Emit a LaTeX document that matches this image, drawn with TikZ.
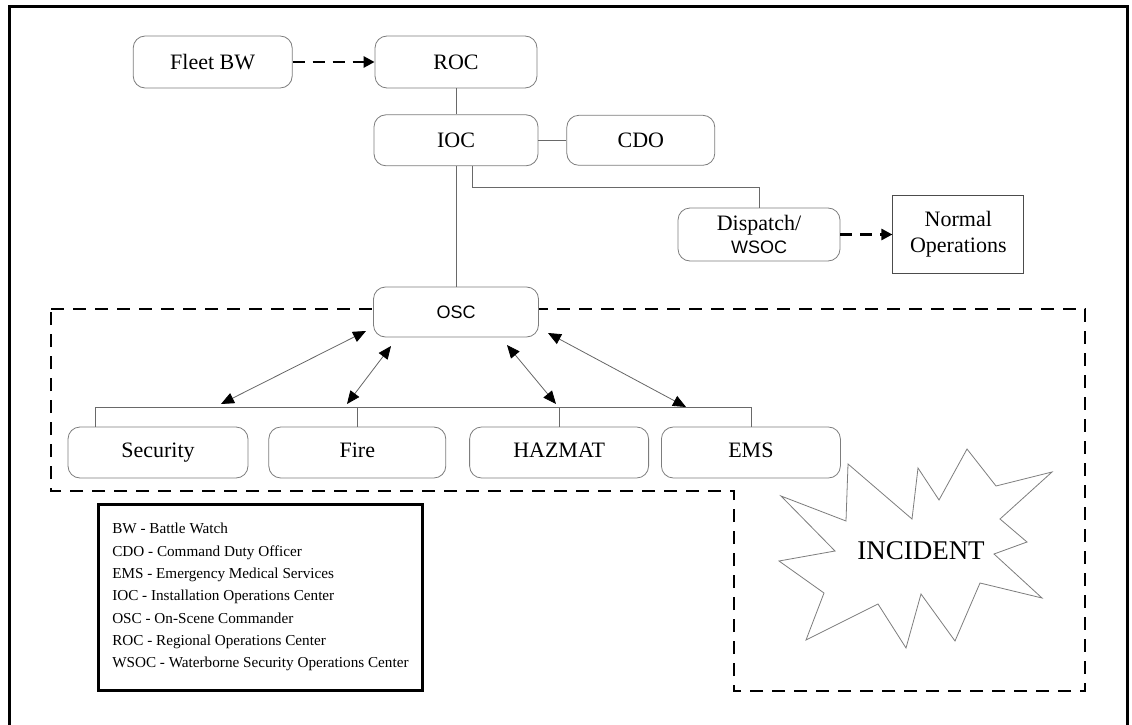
\documentclass[tikz,border=0pt]{standalone}
\usepackage{fontspec}
\setmainfont{Liberation Serif}
\setsansfont{Liberation Sans}
\usetikzlibrary{arrows.meta, positioning, calc, backgrounds}
\definecolor{boxline}{RGB}{125, 125, 125}
\definecolor{linkcolor}{RGB}{105, 105, 105}
\definecolor{framecolor}{RGB}{0, 0, 0}
\tikzset{
  unit/.style={rectangle, rounded corners=12pt, minimum width=162pt, minimum height=52pt, inner sep=0pt, align=center, fill=white, draw=boxline, line width=0.8pt, font=\fontsize{22}{26}\selectfont},
  teamunit/.style={unit, minimum width=179pt, minimum height=51pt, text height=15pt, text depth=5pt},
  sfunit/.style={unit, font=\sffamily\fontsize{18}{22}\selectfont},
  plainbox/.style={unit, rounded corners=0pt, draw=black!70},
  link/.style={draw=linkcolor, line width=0.8pt},
  duallink/.style={draw=black!60, line width=0.8pt, {Triangle[length=13pt,width=11pt,color=black]}-{Triangle[length=13pt,width=11pt,color=black]}},
  dasharr/.style={-{Triangle[length=11pt,width=11pt]}, line width=2.6pt, dash pattern=on 12pt off 8pt},
  zone/.style={line width=2.8pt, dash pattern=on 13pt off 9pt},
  legendbox/.style={rectangle, draw=framecolor, line width=2.5pt, fill=white, align=left, inner xsep=14pt, inner ysep=0pt, minimum width=320pt, minimum height=186pt, font=\fontsize{15.2}{22.3}\selectfont},
  burst/.style={draw=boxline, line width=0.8pt, fill=white}
}

\begin{document}
\begin{tikzpicture}[x=1pt, y=-1pt]

  \useasboundingbox (0,0) rectangle (1132,725);
  \draw[line width=3pt, color=framecolor] (9,725) -- (9,7) -- (1127,7) -- (1127,725);

  \node[unit] (roc) at (456,62) {ROC};
  \node[unit, minimum width=159pt, left=82pt of roc] (fleet) {Fleet BW};
  \node[unit, minimum width=164pt, minimum height=51pt, below=26pt of roc] (ioc) {IOC};
  \node[unit, minimum width=148pt, minimum height=50pt, right=28pt of ioc] (cdo) {CDO};

  \node[unit, minimum height=53pt] (dispatch) at (759,234.5) {Dispatch/\\[-3pt]{\sffamily\fontsize{18}{22}\selectfont WSOC}};
  \node[plainbox, minimum width=131pt, minimum height=78pt, right=52pt of dispatch] (normal) {Normal\\Operations};

  \node[sfunit, minimum width=165pt, minimum height=50pt] (osc) at (456,312) {OSC};

  \node[teamunit, minimum width=180pt] (sec) at (158,452.5) {Security};
  \node[teamunit, minimum width=177pt, right=20pt of sec] (fire) {Fire};
  \node[teamunit, right=23pt of fire] (haz) {HAZMAT};
  \node[teamunit, right=12pt of haz] (ems) {EMS};

  % chain of command
  \draw[link] (roc) -- (ioc);
  \draw[link] (ioc) -- (cdo);
  \draw[link] (ioc) -- (osc);
  \draw[link] ($(ioc.south)+(16,0)$) -- ++(0,21) -| (dispatch.north);
  \draw[dasharr] (fleet) -- (roc);
  \draw[dasharr] (dispatch) -- (normal);

  % responders
  \draw[link] ($(sec.north west)+(28,0)$) -- ++(0,-19) -| (ems.north);
  \draw[link] (fire.north) -- ++(0,-19);
  \draw[link] (haz.north) -- ++(0,-19);

  \coordinate (o1) at (366,331);
  \coordinate (o2) at (391,346);
  \coordinate (o3) at (507,345);
  \coordinate (o4) at (548,333);
  \coordinate (b1) at (221,404);
  \coordinate (b2) at (347,404);
  \coordinate (b3) at (556,404);
  \coordinate (b4) at (686,407);
  \draw[duallink] (o1) -- (b1);
  \draw[duallink] (o2) -- (b2);
  \draw[duallink] (o3) -- (b3);
  \draw[duallink] (o4) -- (b4);

  % incident
  \draw[burst] plot coordinates {(848,464) (912,519) (918,468) (939,500) (967,449) (996,486)
    (1052,472) (1000,519) (1027,542) (994,554) (1042,598) (980,583) (955,641) (921,594)
    (906,648) (878,604) (806,640) (824,593) (779,561) (835,551) (781,496) (846,521)} -- cycle;
  \node[font=\fontsize{27}{30}\selectfont] (incident) at (921,551) {INCIDENT};

  \node[legendbox, anchor=north west] (legend) at (97,503) {BW - Battle Watch\\
    CDO - Command Duty Officer\\
    EMS - Emergency Medical Services\\
    IOC - Installation Operations Center\\
    OSC - On-Scene Commander\\
    ROC - Regional Operations Center\\
    WSOC - Waterborne Security Operations Center};

  \begin{scope}[on background layer]
    \draw[zone] (51,309) -- (1085,309) -- (1085,691) -- (734,691) -- (734,491) -- (51,491) -- cycle;
  \end{scope}

\end{tikzpicture}
\end{document}
